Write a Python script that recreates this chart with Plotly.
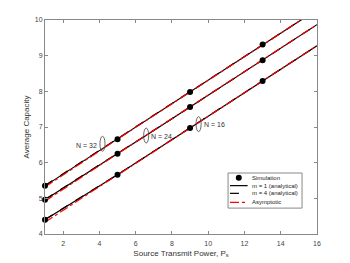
import plotly.graph_objects as go

x = list(range(1, 17))

# analytical m = 1
m1_N32 = [5.35, 5.68, 6.01, 6.34, 6.67, 7.00, 7.33, 7.66, 7.98, 8.31, 8.64, 8.97, 9.30, 9.63, 9.96, 10.29]
m1_N24 = [4.96, 5.28, 5.61, 5.93, 6.25, 6.58, 6.90, 7.23, 7.56, 7.88, 8.21, 8.54, 8.87, 9.20, 9.53, 9.87]
m1_N16 = [4.40, 4.71, 5.03, 5.35, 5.66, 5.99, 6.31, 6.64, 6.97, 7.30, 7.63, 7.96, 8.29, 8.62, 8.95, 9.28]
# analytical m = 4
m4_N32 = [5.36, 5.69, 6.02, 6.35, 6.67, 7.00, 7.33, 7.66, 7.99, 8.32, 8.64, 8.97, 9.30, 9.63, 9.96, 10.29]
m4_N24 = [4.97, 5.29, 5.62, 5.94, 6.26, 6.58, 6.91, 7.23, 7.56, 7.89, 8.21, 8.54, 8.87, 9.20, 9.53, 9.87]
m4_N16 = [4.41, 4.72, 5.04, 5.36, 5.67, 5.99, 6.32, 6.64, 6.97, 7.30, 7.63, 7.96, 8.29, 8.62, 8.95, 9.28]
# asymptotic
as_N32 = [5.32, 5.66, 6.00, 6.33, 6.66, 6.99, 7.32, 7.65, 7.98, 8.31, 8.64, 8.97, 9.30, 9.63, 9.96, 10.29]
as_N24 = [4.92, 5.26, 5.59, 5.92, 6.25, 6.58, 6.90, 7.23, 7.56, 7.88, 8.21, 8.54, 8.87, 9.20, 9.53, 9.87]
as_N16 = [4.33, 4.67, 5.00, 5.33, 5.65, 5.98, 6.31, 6.64, 6.97, 7.30, 7.63, 7.96, 8.29, 8.62, 8.95, 9.28]

sim_x = [1, 5, 9, 13]
sim_N32 = [5.35, 6.66, 7.98, 9.31]
sim_N24 = [4.96, 6.25, 7.56, 8.87]
sim_N16 = [4.40, 5.66, 6.97, 8.29]

labels = ["N = 32", "N = 24", "N = 16"]
ell_x = [4.17, 6.58, 9.47]
ell_y = [6.53, 6.76, 7.08]

legend_names = ["Simulation", "m = 1 (analytical)", "m = 4 (analytical)", "Asymptotic"]

fig = go.Figure()

for m1, m4, asy in [(m1_N32, m4_N32, as_N32), (m1_N24, m4_N24, as_N24), (m1_N16, m4_N16, as_N16)]:
    fig.add_trace(go.Scatter(x=x, y=m1, mode="lines", line=dict(color="black", width=1.2),
                             name=legend_names[1], showlegend=False))
    fig.add_trace(go.Scatter(x=x, y=m4, mode="lines", line=dict(color="black", width=1.2, dash="dash"),
                             name=legend_names[2], showlegend=False))
    fig.add_trace(go.Scatter(x=x, y=asy, mode="lines", line=dict(color="red", width=1.2, dash="dashdot"),
                             name=legend_names[3], showlegend=False))

for sy in [sim_N32, sim_N24, sim_N16]:
    fig.add_trace(go.Scatter(x=sim_x, y=sy, mode="markers", marker=dict(color="black", size=6),
                             name=legend_names[0], showlegend=False, cliponaxis=False))

for lab, ex, ey, i in zip(labels, ell_x, ell_y, range(3)):
    fig.add_shape(type="circle", xref="x", yref="y",
                  x0=ex - 0.14, x1=ex + 0.14, y0=ey - 0.21, y1=ey + 0.21,
                  line=dict(color="#444", width=0.8))
    if i == 0:
        fig.add_annotation(x=ex - 0.2, y=ey - 0.05, text=lab, showarrow=False, xanchor="right",
                           font=dict(size=7, color="#333"))
    else:
        fig.add_annotation(x=ex + 0.18, y=ey - 0.02, text=lab, showarrow=False, xanchor="left",
                           font=dict(size=7, color="#333"))

# manual legend (paper coords = plot area)
lx0, lx1, ly0, ly1 = 0.673, 0.945, 0.121, 0.285
fig.add_shape(type="rect", xref="paper", yref="paper", x0=lx0, x1=lx1, y0=ly0, y1=ly1,
              line=dict(color="#888", width=1), fillcolor="white", layer="above")
row_y = [0.263, 0.226, 0.190, 0.148]
sx0, sx1 = 0.68, 0.745
styles = [None, dict(color="black", width=1.2), dict(color="black", width=1.2, dash="dash"),
          dict(color="red", width=1.2, dash="dashdot")]
for name, ry, st in zip(legend_names, row_y, styles):
    if st is None:
        fig.add_shape(type="circle", xref="paper", yref="paper",
                      x0=(sx0 + sx1) / 2 - 0.011, x1=(sx0 + sx1) / 2 + 0.011,
                      y0=ry - 0.014, y1=ry + 0.014, fillcolor="black", line=dict(color="black", width=0),
                      layer="above")
    else:
        fig.add_shape(type="line", xref="paper", yref="paper", x0=sx0, x1=sx1, y0=ry, y1=ry,
                      line=st, layer="above")
    fig.add_annotation(xref="paper", yref="paper", x=0.752, y=ry, text=name, showarrow=False,
                       xanchor="left", yanchor="middle", font=dict(size=6, color="#222"))

axis_common = dict(showgrid=False, zeroline=False, ticks="inside", ticklen=3, mirror="ticks",
                   showline=True, linecolor="#888", linewidth=1, tickcolor="#888",
                   tickfont=dict(size=7, color="#444"), automargin=False)

fig.update_layout(
    width=342, height=255,
    margin=dict(l=37, r=33, t=12, b=29),
    paper_bgcolor="white", plot_bgcolor="white",
    font=dict(family="Liberation Sans, Arial, sans-serif", color="#333"),
    xaxis=dict(range=[1, 16], tickvals=[2, 4, 6, 8, 10, 12, 14, 16], ticklabelstandoff=3,
               title=dict(text="Source Transmit Power, P<sub>s</sub>", font=dict(size=8, color="#333"), standoff=3),
               **axis_common),
    yaxis=dict(range=[4, 10], tickvals=[4, 5, 6, 7, 8, 9, 10],
               title=dict(text="Average Capacity", font=dict(size=8, color="#333"), standoff=4),
               **axis_common),
    showlegend=False,
)

fig.write_html("out.html")
